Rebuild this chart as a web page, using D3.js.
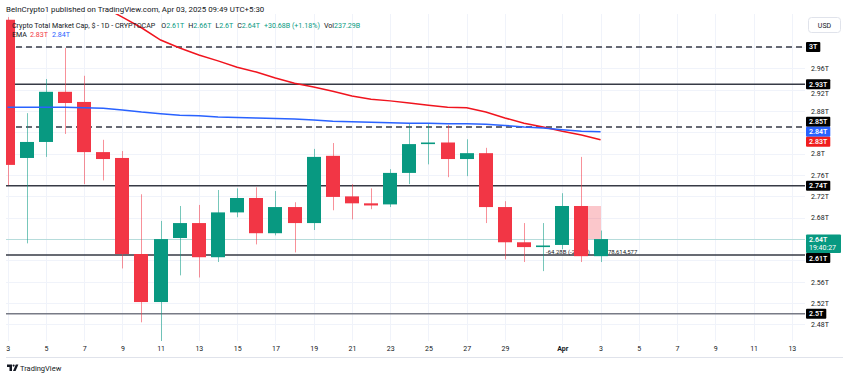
<!DOCTYPE html>
<html>
<head>
<meta charset="utf-8">
<script src="https://cdn.jsdelivr.net/npm/d3@7"></script>
<style>
    body { margin: 0; background: #ffffff; }
    svg { display: block; font-family: Roboto, "Liberation Sans", sans-serif; }
</style>
</head>
<body>
<main></main>
<script>
/* Daily candles, values in trillions of USD */
const days = ["2025-03-03", "2025-03-04", "2025-03-05", "2025-03-06", "2025-03-07", "2025-03-08",
    "2025-03-09", "2025-03-10", "2025-03-11", "2025-03-12", "2025-03-13", "2025-03-14", "2025-03-15",
    "2025-03-16", "2025-03-17", "2025-03-18", "2025-03-19", "2025-03-20", "2025-03-21", "2025-03-22",
    "2025-03-23", "2025-03-24", "2025-03-25", "2025-03-26", "2025-03-27", "2025-03-28", "2025-03-29",
    "2025-03-30", "2025-03-31", "2025-04-01", "2025-04-02", "2025-04-03"]
const open = [3.051, 2.792, 2.822, 2.916, 2.897, 2.803, 2.792, 2.612, 2.522, 2.642, 2.670, 2.606, 2.690,
    2.717, 2.651, 2.700, 2.670, 2.796, 2.720, 2.707, 2.705, 2.764, 2.818, 2.821, 2.790, 2.801, 2.700,
    2.634, 2.625, 2.629, 2.702, 2.608]
const high = [3.056, 2.876, 2.940, 2.998, 2.946, 2.826, 2.805, 2.724, 2.674, 2.702, 2.704, 2.732, 2.735,
    2.737, 2.730, 2.709, 2.809, 2.820, 2.743, 2.735, 2.771, 2.856, 2.856, 2.854, 2.827, 2.811, 2.711,
    2.670, 2.670, 2.726, 2.794, 2.656]
const low = [2.741, 2.632, 2.794, 2.837, 2.743, 2.750, 2.585, 2.484, 2.440, 2.572, 2.568, 2.597, 2.681,
    2.630, 2.647, 2.615, 2.657, 2.694, 2.677, 2.696, 2.700, 2.743, 2.780, 2.756, 2.758, 2.670, 2.602,
    2.597, 2.580, 2.621, 2.597, 2.597]
const close = [2.779, 2.822, 2.916, 2.895, 2.803, 2.790, 2.612, 2.522, 2.640, 2.670, 2.606, 2.690, 2.717,
    2.651, 2.700, 2.670, 2.794, 2.719, 2.707, 2.703, 2.764, 2.818, 2.821, 2.790, 2.801, 2.700, 2.634,
    2.625, 2.628, 2.702, 2.608, 2.640]

/* the two EMA lines */
const emaRed = [3.163, 3.144, 3.126, 3.109, 3.094, 3.075, 3.056, 3.036, 3.013, 2.998, 2.985, 2.974, 2.962,
    2.953, 2.942, 2.932, 2.925, 2.917, 2.908, 2.902, 2.899, 2.895, 2.891, 2.887, 2.886, 2.878, 2.867,
    2.857, 2.850, 2.842, 2.835, 2.826]
const emaBlue = [2.887, 2.887, 2.887, 2.887, 2.886, 2.885, 2.882, 2.878, 2.875, 2.872, 2.871, 2.869, 2.868,
    2.867, 2.866, 2.865, 2.863, 2.861, 2.860, 2.859, 2.858, 2.857, 2.857, 2.856, 2.856, 2.855, 2.853,
    2.850, 2.848, 2.845, 2.842, 2.841]

/* horizontal levels drawn on the chart */
const dashedLevels = [3, 2.85]
const solidLevels = [2.93, 2.74, 2.61]
const greyLevels = [2.5]

/* axis ticks */
const priceTicks = [2.48, 2.52, 2.56, 2.6, 2.64, 2.68, 2.72, 2.76, 2.8, 2.84, 2.88, 2.92, 2.96, 3]
const tickDays = ["2025-03-03", "2025-03-05", "2025-03-07", "2025-03-09", "2025-03-11", "2025-03-13",
    "2025-03-15", "2025-03-17", "2025-03-19", "2025-03-21", "2025-03-23", "2025-03-25", "2025-03-27",
    "2025-03-29", "2025-04-01", "2025-04-03", "2025-04-05", "2025-04-07", "2025-04-09", "2025-04-11",
    "2025-04-13"]
const tickLabels = ["3", "5", "7", "9", "11", "13", "15", "17", "19", "21", "23", "25", "27", "29",
    "Apr", "3", "5", "7", "9", "11", "13"]

const changeText = "+30.68B (+1.18%)"
const volumeText = "237.29B"
const countdown = "19:40:27"
const measureText = ["-64.28B (-2.38%)", "78,614,577"]

const svgWidth = 850
const svgHeight = 378

const plotLeft = 6
const plotRight = 805
const plotTop = 14
const plotBottom = 341

const red = "#f23645"
const green = "#089981"
const ink = "#131722"

const parse = d3.utcParse("%Y-%m-%d")
const fmt = d3.format(".3~r")

let candles = days.map((d, i) => ({
    date: parse(d), o: open[i], h: high[i], l: low[i], c: close[i]
}))

let svg = d3.select("main")
    .append("svg")
    .attr("width", svgWidth)
    .attr("height", svgHeight)
    .style("background-color", "white")

svg.append("defs")
    .append("clipPath")
    .attr("id", "plot-clip")
    .append("rect")
    .attr("x", plotLeft)
    .attr("y", plotTop)
    .attr("width", plotRight - plotLeft)
    .attr("height", plotBottom - plotTop)

/* Scales */

let x = d3.scaleUtc()
    .domain([Date.UTC(2025, 2, 2, 22), Date.UTC(2025, 3, 13, 16, 30)])
    .range([plotLeft, plotRight])

let y = d3.scaleLinear()
    .domain([2.449, 3.0618])
    .range([plotBottom, plotTop])

/* Grid */

let grid = svg.append("g")

grid.selectAll(".vgrid")
    .data(tickDays.map(parse))
    .enter()
    .append("line")
    .attr("x1", (d) => Math.round(x(d)) + 0.5)
    .attr("x2", (d) => Math.round(x(d)) + 0.5)
    .attr("y1", plotTop)
    .attr("y2", plotBottom)
    .attr("stroke", "#f0f3fa")

grid.selectAll(".hgrid")
    .data(priceTicks)
    .enter()
    .append("line")
    .attr("x1", plotLeft)
    .attr("x2", plotRight)
    .attr("y1", (d) => Math.round(y(d)) + 0.5)
    .attr("y2", (d) => Math.round(y(d)) + 0.5)
    .attr("stroke", "#f0f3fa")

let plot = svg.append("g")
    .attr("clip-path", "url(#plot-clip)")

/* Levels */

plot.selectAll(".dashed")
    .data(dashedLevels)
    .enter()
    .append("line")
    .attr("x1", plotLeft)
    .attr("x2", plotRight)
    .attr("y1", (d) => y(d))
    .attr("y2", (d) => y(d))
    .attr("stroke", "#363a45")
    .attr("stroke-width", 1.5)
    .attr("stroke-dasharray", "6,4")

plot.selectAll(".solid")
    .data(solidLevels)
    .enter()
    .append("line")
    .attr("x1", plotLeft)
    .attr("x2", plotRight)
    .attr("y1", (d) => y(d))
    .attr("y2", (d) => y(d))
    .attr("stroke", "#363a45")
    .attr("stroke-width", 1.5)

plot.selectAll(".grey")
    .data(greyLevels)
    .enter()
    .append("line")
    .attr("x1", plotLeft)
    .attr("x2", plotRight)
    .attr("y1", (d) => y(d))
    .attr("y2", (d) => y(d))
    .attr("stroke", "#787b86")
    .attr("stroke-width", 1.5)

/* last price line */
let last = candles[candles.length - 1]
let prev = candles[candles.length - 2]

plot.append("line")
    .attr("x1", plotLeft)
    .attr("x2", plotRight)
    .attr("y1", Math.round(y(last.c)) + 0.5)
    .attr("y2", Math.round(y(last.c)) + 0.5)
    .attr("stroke", green)
    .attr("stroke-opacity", 0.25)

/* measure drawing between the last two candles */
const bodyW = 14
let mx0 = Math.round(x(prev.date)) + 7
let mx1 = Math.round(x(last.date))

plot.append("rect")
    .attr("x", mx0)
    .attr("y", y(prev.o))
    .attr("width", mx1 - mx0)
    .attr("height", y(last.c) - y(prev.o))
    .attr("fill", red)
    .attr("fill-opacity", 0.28)

plot.append("text")
    .attr("x", 546)
    .attr("y", y(2.61) - 1.5)
    .attr("font-size", 6)
    .attr("fill", ink)
    .text(measureText[0])

plot.append("text")
    .attr("x", mx1 + 7)
    .attr("y", y(2.61) - 1.5)
    .attr("font-size", 6)
    .attr("fill", ink)
    .text(measureText[1])

/* Candles */

let cColor = (d) => d.c >= d.o ? green : red

plot.selectAll(".wick")
    .data(candles)
    .enter()
    .append("line")
    .attr("x1", (d) => Math.round(x(d.date)) + 0.5)
    .attr("x2", (d) => Math.round(x(d.date)) + 0.5)
    .attr("y1", (d) => y(d.h))
    .attr("y2", (d) => y(d.l))
    .attr("stroke", cColor)
    .attr("stroke-opacity", 0.55)

plot.selectAll(".body")
    .data(candles)
    .enter()
    .append("rect")
    .attr("x", (d) => Math.round(x(d.date)) - 7)
    .attr("y", (d) => y(Math.max(d.o, d.c)))
    .attr("width", bodyW)
    .attr("height", (d) => Math.max(1.2, Math.abs(y(d.o) - y(d.c))))
    .attr("fill", cColor)

/* EMA lines */

let line = d3.line()
    .x((d) => x(d[0]))
    .y((d) => y(d[1]))

plot.append("path")
    .attr("d", line(candles.map((d, i) => [d.date, emaRed[i]])))
    .attr("fill", "none")
    .attr("stroke", "#f0141e")
    .attr("stroke-width", 1.5)

plot.append("path")
    .attr("d", line(candles.map((d, i) => [d.date, emaBlue[i]])))
    .attr("fill", "none")
    .attr("stroke", "#2962ff")
    .attr("stroke-width", 1.5)

/* Header strip and legend */

svg.append("rect")
    .attr("x", 0)
    .attr("y", 0)
    .attr("width", svgWidth)
    .attr("height", plotTop)
    .attr("fill", "white")

svg.append("text")
    .attr("x", 6)
    .attr("y", 11.5)
    .attr("font-size", 7.9)
    .attr("fill", ink)
    .text("BeInCrypto1 published on TradingView.com, Apr 03, 2025 09:49 UTC+5:30")

let legend = svg.append("text")
    .attr("x", 12)
    .attr("y", 27.5)
    .attr("font-size", 7.1)
    .attr("fill", ink)

legend.append("tspan").text("Crypto Total Market Cap, $ - 1D - CRYPTOCAP")
legend.append("tspan").attr("dx", 6).text("O")
legend.append("tspan").attr("fill", green).text(fmt(last.o) + "T")
legend.append("tspan").attr("dx", 4).text("H")
legend.append("tspan").attr("fill", green).text(fmt(last.h) + "T")
legend.append("tspan").attr("dx", 4).text("L")
legend.append("tspan").attr("fill", green).text(fmt(last.l) + "T")
legend.append("tspan").attr("dx", 4).text("C")
legend.append("tspan").attr("fill", green).text(fmt(last.c) + "T")
legend.append("tspan").attr("dx", 4).attr("fill", green).text(changeText)
legend.append("tspan").attr("dx", 4).text("Vol")
legend.append("tspan").attr("fill", green).text(volumeText)

let emaLegend = svg.append("text")
    .attr("x", 12)
    .attr("y", 37)
    .attr("font-size", 7.1)
    .attr("fill", ink)

emaLegend.append("tspan").text("EMA")
emaLegend.append("tspan").attr("dx", 3).attr("fill", red).text(fmt(emaRed[emaRed.length - 1]) + "T")
emaLegend.append("tspan").attr("dx", 4).attr("fill", "#2962ff").text(fmt(emaBlue[emaBlue.length - 1]) + "T")

/* Price tags on the right axis */

let tags = []
dashedLevels.concat(solidLevels, greyLevels).forEach((v) => {
    tags.push({ v: v, text: fmt(v) + "T", fill: "#000000", cy: y(v), h: 10 })
})
let blueTag = { v: emaBlue[emaBlue.length - 1], fill: "#2962ff", h: 10 }
let redTag = { v: emaRed[emaRed.length - 1], fill: "#f01e1e", h: 10 }
blueTag.cy = y(blueTag.v)
redTag.cy = Math.max(y(redTag.v), blueTag.cy + 10)
blueTag.text = fmt(blueTag.v) + "T"
redTag.text = fmt(redTag.v) + "T"

let priceTop = y(last.c) - 4.5
let priceTag = { top: priceTop, h: 18.5 }

/* push level tags away from the fixed tags */
tags.forEach((t) => {
    if (Math.abs(t.cy - blueTag.cy) < 10 && t.cy < blueTag.cy + 1) t.cy = blueTag.cy - 10
    if (t.cy > priceTag.top - 5 && t.cy < priceTag.top + priceTag.h + 5) {
        t.cy = t.cy < priceTag.top ? priceTag.top - 5 : priceTag.top + priceTag.h + 5
    }
})
tags.push(blueTag, redTag)

let axisX = 806

/* price axis labels, hidden where a tag covers them */
let shownTicks = priceTicks.filter((v) => {
    let ty = y(v)
    let hitTag = tags.some((t) => Math.abs(t.cy - ty) < 5)
    let hitPrice = ty > priceTag.top - 3 && ty < priceTag.top + priceTag.h + 3
    return !hitTag && !hitPrice
})

let rightAxis = d3.axisRight(y)
    .tickValues(shownTicks)
    .tickFormat((d) => fmt(d) + "T")
    .tickSize(0)
    .tickPadding(5)

let yAxis = svg.append("g")
    .attr("transform", `translate(${axisX}, 0)`)
    .call(rightAxis)

yAxis.select(".domain").remove()

yAxis.selectAll("text")
    .attr("font-family", "Roboto, sans-serif")
    .attr("font-size", 7)
    .attr("fill", ink)

/* labels sitting right against a tag get nudged clear of it */
yAxis.selectAll(".tick").each(function (v) {
    let ty = y(v)
    let near = tags.find((t) => Math.abs(t.cy - ty) < t.h / 2 + 4)
    if (near) {
        let shift = ty > near.cy ? near.cy + near.h / 2 + 4 - ty : near.cy - near.h / 2 - 4 - ty
        d3.select(this).select("text").attr("y", shift)
    }
})

let tagG = svg.append("g")
    .attr("font-size", 7)
    .attr("font-weight", 600)

tags.forEach((t) => {
    let g = tagG.append("g")
    let rect = g.append("rect")
        .attr("x", axisX)
        .attr("y", t.cy - t.h / 2)
        .attr("height", t.h)
        .attr("rx", 1)
        .attr("fill", t.fill)
    let label = g.append("text")
        .attr("x", axisX + 3)
        .attr("y", t.cy)
        .attr("dy", "0.35em")
        .attr("fill", "white")
        .text(t.text)
    rect.attr("width", label.node().getComputedTextLength() + 6)
})

let pg = tagG.append("g")
pg.append("rect")
    .attr("x", axisX)
    .attr("y", priceTag.top)
    .attr("width", 35)
    .attr("height", priceTag.h)
    .attr("rx", 1)
    .attr("fill", green)
pg.append("text")
    .attr("x", axisX + 3)
    .attr("y", priceTag.top + 7.5)
    .attr("fill", "white")
    .text(fmt(last.c) + "T")
pg.append("text")
    .attr("x", axisX + 3)
    .attr("y", priceTag.top + 15.5)
    .attr("fill", "white")
    .attr("font-weight", 400)
    .text(countdown)

/* USD button */

svg.append("rect")
    .attr("x", 808.5)
    .attr("y", 17.5)
    .attr("width", 32)
    .attr("height", 15)
    .attr("rx", 3)
    .attr("fill", "white")
    .attr("stroke", "#e0e3eb")

svg.append("text")
    .attr("x", 824.5)
    .attr("y", 27.5)
    .attr("text-anchor", "middle")
    .attr("font-size", 7)
    .attr("fill", ink)
    .text("USD")

/* Time axis */

let bottomAxis = d3.axisBottom(x)
    .tickValues(tickDays.map(parse))
    .tickFormat((d, i) => tickLabels[i])
    .tickSize(0)
    .tickPadding(5)

let xAxis = svg.append("g")
    .attr("transform", `translate(0, ${plotBottom})`)
    .call(bottomAxis)

xAxis.select(".domain").remove()

xAxis.selectAll("text")
    .attr("font-family", "Roboto, sans-serif")
    .attr("font-size", 7)
    .attr("fill", ink)
    .attr("font-weight", (d, i) => tickLabels[i] == "Apr" ? 700 : 400)

svg.append("line")
    .attr("x1", plotLeft)
    .attr("x2", 843)
    .attr("y1", 357.5)
    .attr("y2", 357.5)
    .attr("stroke", "#e0e3eb")

/* TradingView mark */

let logo = svg.append("g")
    .attr("fill", ink)

logo.append("path")
    .attr("d", "M7,364.5h5v6.5h-2.5v-4h-2.5z")
logo.append("circle")
    .attr("cx", 13.6)
    .attr("cy", 365.6)
    .attr("r", 1.1)
logo.append("path")
    .attr("d", "M15.8,364.5h2.6l-2.8,6.5h-2.6z")

svg.append("text")
    .attr("x", 20)
    .attr("y", 370.5)
    .attr("font-size", 7.5)
    .attr("fill", ink)
    .text("TradingView")
</script>
</body>
</html>
